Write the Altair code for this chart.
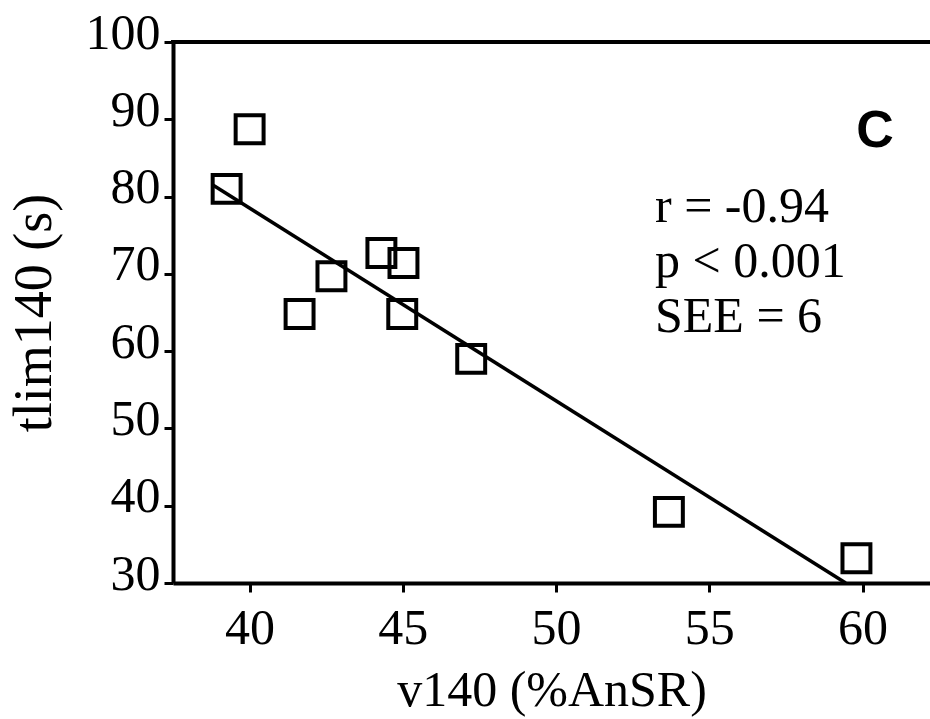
import altair as alt
import pandas as pd

# Data
v140 = [40.0, 39.25, 42.67, 41.63, 44.3, 45.02, 44.98, 47.23, 53.68, 59.8]
tlim140 = [88.7, 81.0, 69.7, 64.8, 72.7, 71.4, 64.8, 59.0, 39.2, 33.2]
fit_x = [38.8, 59.45]
fit_y = [81.5, 30.0]
x_ticks = [40, 45, 50, 55, 60]
y_ticks = [30, 40, 50, 60, 70, 80, 90, 100]
stats_lines = ["r = -0.94", "p < 0.001", "SEE = 6"]
panel_label = "C"

pts = pd.DataFrame({"v140": v140, "tlim140": tlim140})
fit = pd.DataFrame({"v140": fit_x, "tlim140": fit_y})

W, H = 757, 541
SERIF = "Liberation Serif"

xs = alt.Scale(domain=[37.5, 62.2], nice=False, zero=False)
ys = alt.Scale(domain=[30, 100], nice=False, zero=False)

x_axis = alt.Axis(values=x_ticks, title="v140 (%AnSR)", grid=False,
                  domainColor="black", domainWidth=4, tickColor="black",
                  tickWidth=3, tickSize=9, labelFont=SERIF, labelFontSize=50,
                  labelColor="black", labelPadding=11, titleFont=SERIF,
                  titleFontSize=50, titleFontWeight="normal", titleColor="black",
                  titlePadding=12, labelFlush=False)
y_axis = alt.Axis(values=y_ticks, title="tlim140 (s)", grid=False,
                  domainColor="black", domainWidth=4, tickColor="black",
                  tickWidth=3, tickSize=9, labelFont=SERIF, labelFontSize=50,
                  labelColor="black", labelPadding=4, labelOffset=-9,
                  titleFont=SERIF, titleFontSize=54, titleFontWeight="normal",
                  titleColor="black", titlePadding=24, labelFlush=False)

points = alt.Chart(pts).mark_point(shape="square", filled=False, color="black",
                                   size=780, strokeWidth=4, opacity=1).encode(
    x=alt.X("v140:Q", scale=xs, axis=x_axis),
    y=alt.Y("tlim140:Q", scale=ys, axis=y_axis),
)

line = alt.Chart(fit).mark_line(color="black", strokeWidth=3.5).encode(
    x=alt.X("v140:Q", scale=xs),
    y=alt.Y("tlim140:Q", scale=ys),
)

top_border = alt.Chart(pd.DataFrame({"y": [100]})).mark_rule(
    color="black", strokeWidth=4).encode(
    y=alt.Y("y:Q", scale=ys), x=alt.value(-2), x2=alt.value(W))

stats = alt.Chart(pd.DataFrame({"t": [stats_lines]})).mark_text(
    font=SERIF, fontSize=50, align="left", baseline="alphabetic",
    lineHeight=55, color="black").encode(
    text="t", x=alt.value(655 - 173), y=alt.value(222 - 42))

label_c = alt.Chart(pd.DataFrame({"t": [panel_label]})).mark_text(
    font="Liberation Sans", fontSize=52, fontWeight="bold", align="center",
    baseline="alphabetic", color="black").encode(
    text="t", x=alt.value(875 - 173), y=alt.value(147 - 42))

chart = alt.layer(line, points, top_border, stats, label_c).properties(
    width=W, height=H,
    padding={"left": 173, "top": 42, "right": 0, "bottom": 136},
    autosize=alt.AutoSizeParams(type="none"),
    background="white",
).configure_view(stroke=None)

chart.save("out.html", embed_options={"renderer": "svg", "actions": False})
